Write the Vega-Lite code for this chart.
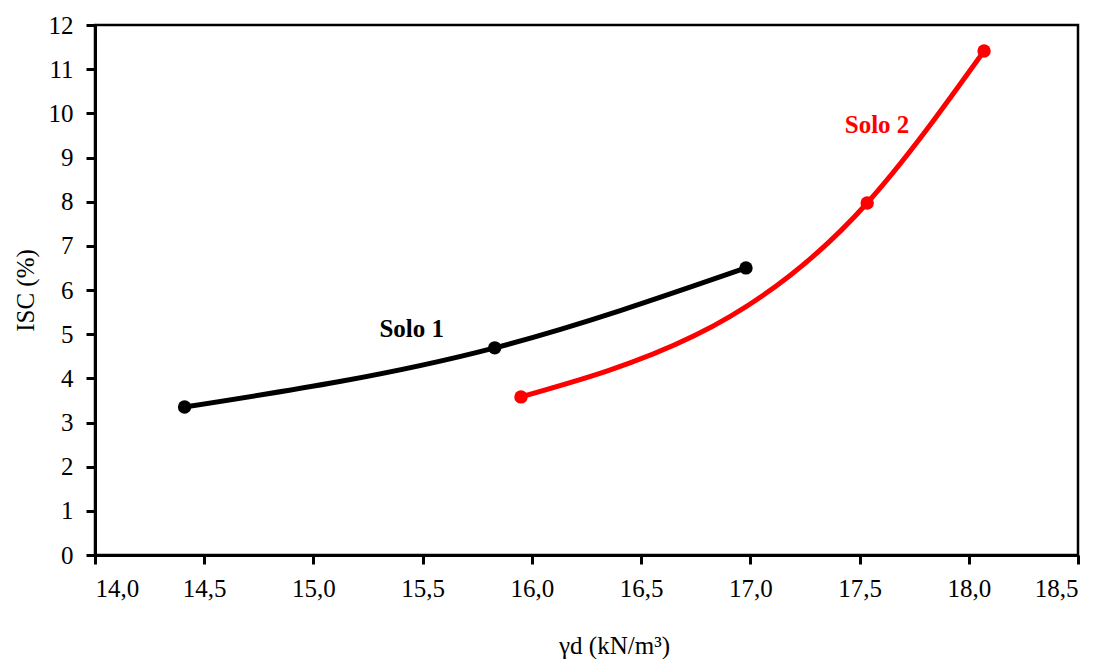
{
  "$schema": "https://vega.github.io/schema/vega-lite/v6.json",
  "autosize": {"type": "none"},
  "padding": {"left": 95, "top": 25, "right": 30, "bottom": 104},
  "width": 983,
  "height": 530,
  "background": "white",
  "config": {
    "view": {"stroke": "black", "strokeWidth": 2.5},
    "font": "Liberation Serif",
    "axis": {
      "grid": false,
      "domainColor": "black",
      "domainWidth": 3,
      "tickColor": "black",
      "tickWidth": 3,
      "tickSize": 9,
      "labelColor": "black",
      "labelFont": "Liberation Serif",
      "labelFontSize": 25,
      "titleColor": "black",
      "titleFont": "Liberation Serif",
      "titleFontSize": 25,
      "titleFontWeight": "normal"
    }
  },
  "datasets": {
    "curves": [
      {"solo": "Solo 1", "gd": 14.41, "isc": 3.35},
      {"solo": "Solo 1", "gd": 15.83, "isc": 4.69},
      {"solo": "Solo 1", "gd": 16.98, "isc": 6.5},
      {"solo": "Solo 2", "gd": 15.95, "isc": 3.58},
      {"solo": "Solo 2", "gd": 17.535, "isc": 7.97},
      {"solo": "Solo 2", "gd": 18.07, "isc": 11.41}
    ],
    "labels": [
      {"solo": "Solo 1", "gd": 15.45, "isc": 5.12},
      {"solo": "Solo 2", "gd": 17.58, "isc": 9.74}
    ]
  },
  "layer": [
    {
      "data": {"name": "curves"},
      "mark": {
        "type": "line",
        "interpolate": "monotone",
        "strokeWidth": 5,
        "point": {"filled": true, "size": 180, "opacity": 1}
      },
      "encoding": {
        "x": {
          "field": "gd",
          "type": "quantitative",
          "scale": {"domain": [14, 18.5], "nice": false, "zero": false},
          "axis": {
            "values": [14, 14.5, 15, 15.5, 16, 16.5, 17, 17.5, 18, 18.5],
            "labelExpr": "replace(format(datum.value, '.1f'), '.', ',')",
            "labelPadding": 12,
            "title": "γd (kN/m³)",
            "titlePadding": 32,
            "titleX": 519
          }
        },
        "y": {
          "field": "isc",
          "type": "quantitative",
          "scale": {"domain": [0, 12], "nice": false},
          "axis": {
            "values": [0, 1, 2, 3, 4, 5, 6, 7, 8, 9, 10, 11, 12],
            "labelPadding": 13,
            "title": "ISC (%)",
            "titlePadding": 10
          }
        },
        "color": {
          "field": "solo",
          "type": "nominal",
          "scale": {"domain": ["Solo 1", "Solo 2"], "range": ["#000000", "#ff0000"]},
          "legend": null
        }
      }
    },
    {
      "data": {"name": "labels"},
      "mark": {"type": "text", "font": "Liberation Serif", "fontSize": 25, "fontWeight": "bold"},
      "encoding": {
        "x": {"field": "gd", "type": "quantitative"},
        "y": {"field": "isc", "type": "quantitative"},
        "text": {"field": "solo"},
        "color": {
          "field": "solo",
          "type": "nominal",
          "scale": {"domain": ["Solo 1", "Solo 2"], "range": ["#000000", "#ff0000"]},
          "legend": null
        }
      }
    }
  ]
}
